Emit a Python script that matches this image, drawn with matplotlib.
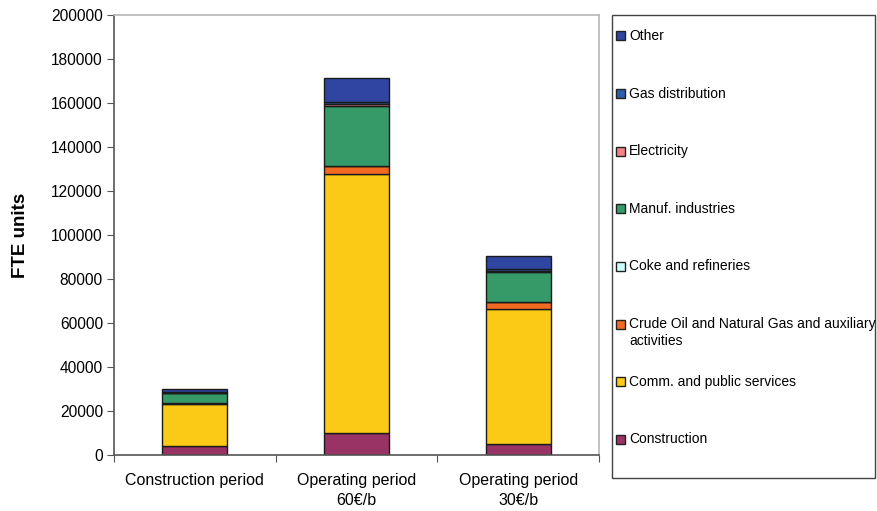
import matplotlib.pyplot as plt
import numpy as np
from matplotlib.patches import Rectangle

plt.rcParams['font.family'] = ['Liberation Sans', 'DejaVu Sans']

periods = ["Construction period", "Operating period\n60€/b", "Operating period\n30€/b"]

# sectors from the bottom of the stack upwards
sectors = ["Construction", "Comm. and public services",
           "Crude Oil and Natural Gas and auxiliary\nactivities",
           "Coke and refineries", "Manuf. industries", "Electricity",
           "Gas distribution", "Other"]
construction = [4000, 9800, 5000]
comm_services = [19000, 117900, 61200]
crude_oil = [500, 3700, 3500]
coke = [0, 0, 0]
manuf = [4500, 27400, 13600]
electricity = [200, 600, 500]
gas_distribution = [300, 900, 700]
other = [1500, 11200, 6100]

colors = ["#993366", "#FBCA16", "#F26A21", "#CCFFFF", "#359A67",
          "#F48482", "#2D5DA8", "#2F45A0"]

series = [construction, comm_services, crude_oil, coke, manuf,
          electricity, gas_distribution, other]

W, H = 877, 511
fig = plt.figure(figsize=(W / 100, H / 100), dpi=100)
ax = fig.add_axes([114 / W, 1 - 455 / H, 485 / W, 440 / H])

x = np.arange(len(periods))
bottom = np.zeros(len(periods))
for vals, col in zip(series, colors):
    ax.bar(x, vals, 0.4, bottom=bottom, color=col,
           edgecolor="#1a1a1a", linewidth=1.0)
    bottom += np.array(vals)

ax.set_xlim(-0.5, 2.5)
ax.set_ylim(0, 200000)
ax.set_yticks(np.arange(0, 200001, 20000))
ax.set_xticks([-0.5, 0.5, 1.5, 2.5])
ax.set_xticklabels([])
ax.set_xticks(x, minor=True)
ax.set_xticklabels(periods, minor=True, fontsize=11.5, linespacing=1.45)
ax.tick_params(axis="x", which="minor", length=0, pad=13)
ax.tick_params(axis="x", which="major", length=5, color="#555555")
ax.tick_params(axis="y", length=5, color="#555555", labelsize=11.2, pad=3)

for side in ("left", "bottom"):
    ax.spines[side].set_color("#555555")
    ax.spines[side].set_linewidth(1.2)
for side in ("top", "right"):
    ax.spines[side].set_color("#b8b8b8")
    ax.spines[side].set_linewidth(1.2)

ax.set_ylabel("FTE units", fontsize=13.5, fontweight="bold", labelpad=16)

# legend box drawn by hand so the entries sit on an even grid
fig.patches.append(Rectangle((612 / W, 1 - 478 / H), 263 / W, 463 / H,
                             transform=fig.transFigure, facecolor="white",
                             edgecolor="#444444", linewidth=1.0))
for i, (label, col) in enumerate(zip(sectors[::-1], colors[::-1])):
    yc = 36 + i * 57.6
    fig.patches.append(Rectangle((616 / W, 1 - (yc + 4.5) / H), 9 / W, 9 / H,
                                 transform=fig.transFigure, facecolor=col,
                                 edgecolor="#222222", linewidth=1.0))
    # the swatch lines up with the first line of a wrapped label
    for k, line in enumerate(label.split("\n")):
        fig.text(629 / W, 1 - (yc + 4 + k * 17) / H, line, fontsize=10,
                 va="baseline", ha="left")

fig.savefig("out.png", dpi=100)
